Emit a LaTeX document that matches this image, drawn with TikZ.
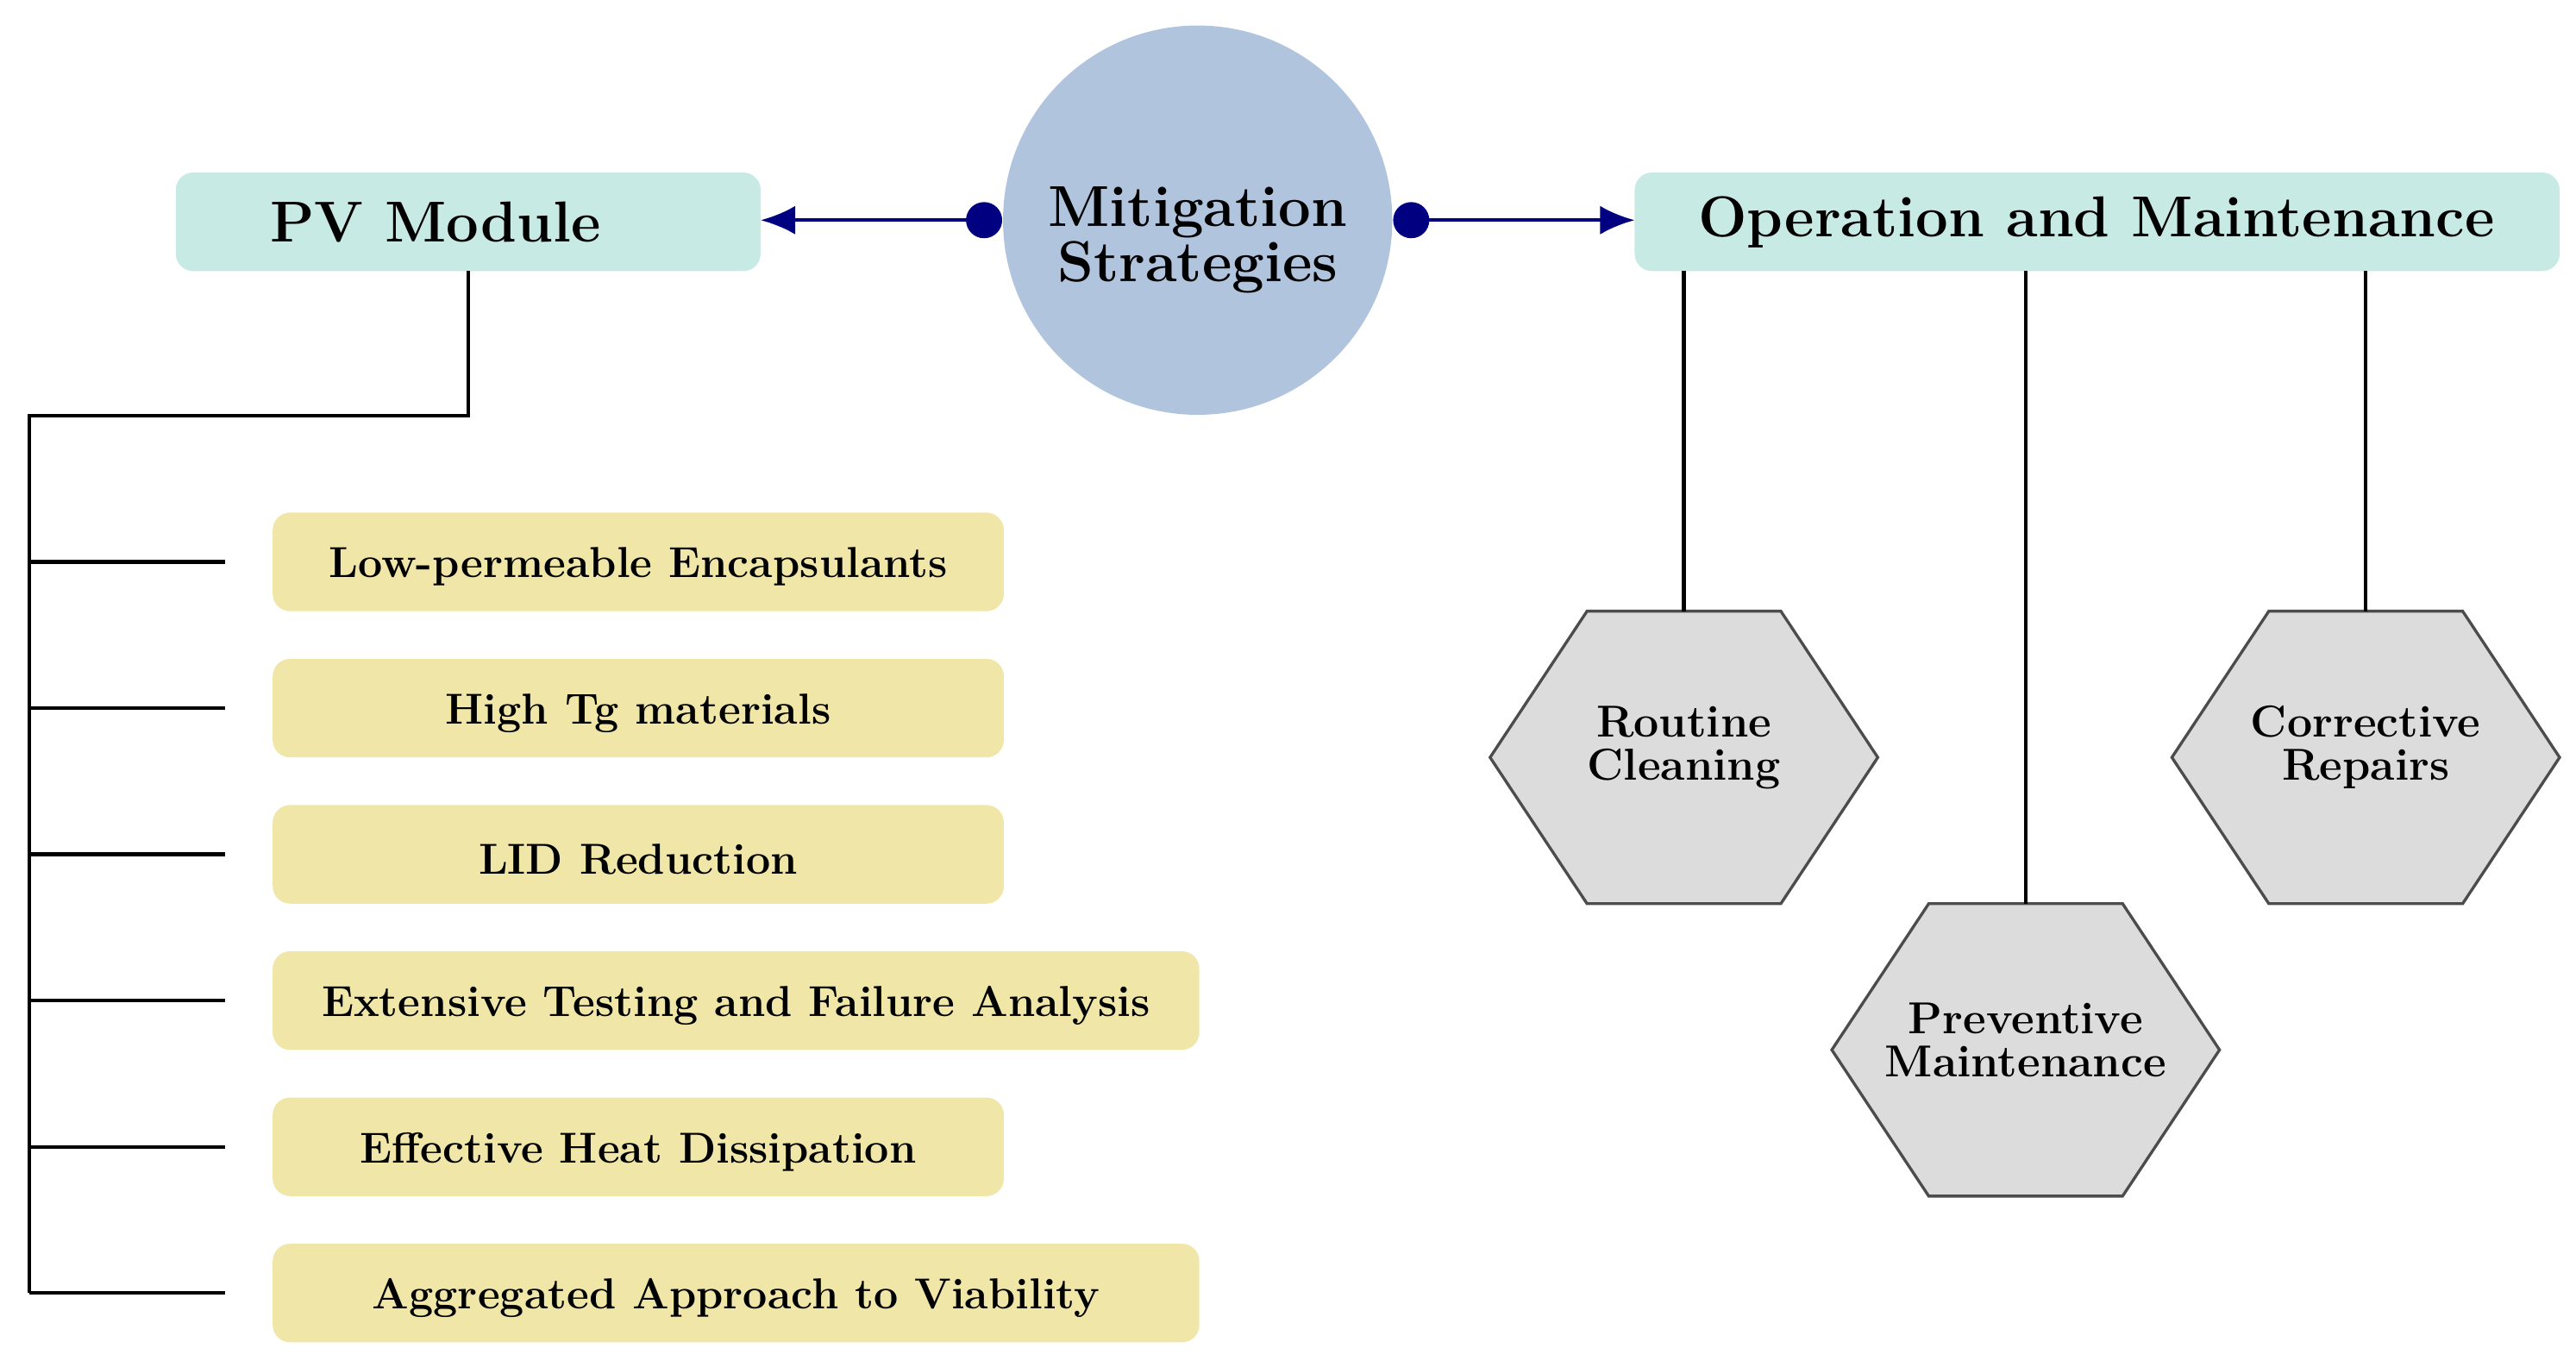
\documentclass[tikz,border=0pt]{standalone}
\usetikzlibrary{arrows.meta}
\begin{document}
\begin{tikzpicture}[x=0.02cm,y=-0.02cm,
  hd/.style={fill=hdc, rounded corners=6pt},
  yb/.style={fill=ybc, rounded corners=6pt},
  ln/.style={line width=1.3pt,black},
  ar/.style={line width=1.2pt,draw=navy,-{Latex[length=12pt,width=10pt]}},
  hex/.style={fill=hxc,draw=black!70,line width=1pt},
  ht/.style={font=\bfseries\fontsize{15.5}{15}\selectfont,align=center},
  yt/.style={font=\bfseries\fontsize{15}{16}\selectfont}]
\definecolor{hdc}{HTML}{C8EAE4}
\definecolor{ybc}{HTML}{EFE6A8}
\definecolor{hxc}{HTML}{DCDCDC}
\definecolor{cic}{HTML}{B0C4DE}
\definecolor{navy}{HTML}{000080}
\useasboundingbox (0,0) rectangle (1568,832);
% headers
\fill[hd] (107,105) rectangle (463,165);
\node[font=\bfseries\fontsize{20}{22}\selectfont] (pv) at (265,135) {PV Module};
\coordinate (pvr) at (463,134);
\fill[hd] (995,105) rectangle (1558,165);
\node[font=\bfseries\fontsize{20}{22}\selectfont] (om) at (1276,135) {Operation and Maintenance};
\coordinate (oml) at (995,134);
% circle
\node[circle,fill=cic,minimum size=4.74cm] (ms) at (729,134) {};
\node[align=center,font=\bfseries\fontsize{20}{19}\selectfont] (mst) at (729,146) {Mitigation\\Strategies};
\coordinate (dl) at (599,134); \coordinate (dr) at (859,134);
\draw[ar] (dl) -- (pvr);
\draw[ar] (dr) -- (oml);
\fill[navy] (dl) circle (0.22cm) (dr) circle (0.22cm);
% left tree
\coordinate (pvb) at (285,165);
\coordinate (c1) at (285,253); \coordinate (c2) at (18,253); \coordinate (c3) at (18,787);
\draw[ln] (pvb) -- (c1) -- (c2) -- (c3);
\foreach \y/\w/\t [count=\i] in {342/611/Low-permeable Encapsulants,431/611/High Tg materials,520/611/LID Reduction,609/730/Extensive Testing and Failure Analysis,698/611/Effective Heat Dissipation,787/730/Aggregated Approach to Viability}{
  \coordinate (b\i) at (18,\y); \coordinate (e\i) at (137,\y);
  \draw[ln] (b\i) -- (e\i);
  \fill[yb] (166,\y-30) rectangle (\w,\y+30);
  \node[yt] (t\i) at ({(166+\w)/2},\y+3) {\t};
}
% hexagons
\foreach \n/\x/\y/\t in {rc/1025/461/{Routine\\Cleaning},pm/1233/639/{Preventive\\Maintenance},cr/1440/461/{Corrective\\Repairs}}{
  \draw[hex] (\x-118,\y) -- (\x-59,\y-89) -- (\x+59,\y-89) -- (\x+118,\y) -- (\x+59,\y+89) -- (\x-59,\y+89) -- cycle;
  \coordinate (\n t) at (\x,\y-89);
  \coordinate (\n s) at (\x,165);
  \node[ht] (\n) at (\x,\y-6) {\t};
  \draw[ln] (\n s) -- (\n t);
}
\end{tikzpicture}
\end{document}
